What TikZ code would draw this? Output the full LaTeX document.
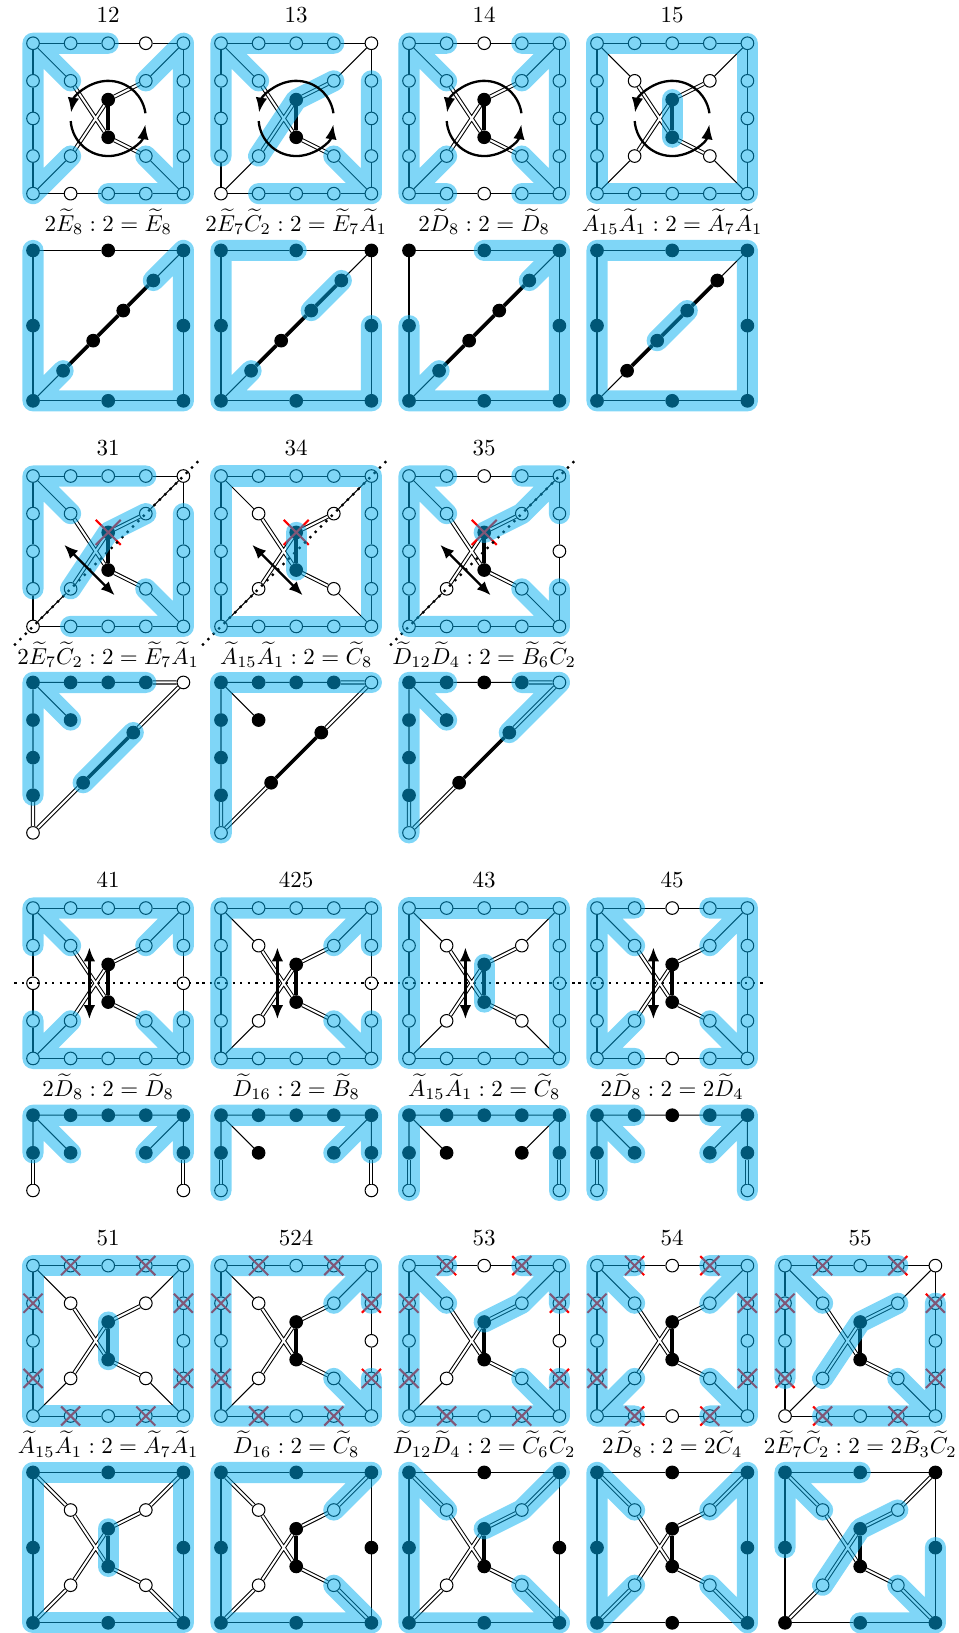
\documentclass[tikz,border=0pt]{standalone}
\usepackage{amsmath}
\usepackage{amssymb}
\usepackage{xcolor}
\usepackage{tikz}
\usetikzlibrary{arrows.meta, shapes.misc}
\definecolor{band}{HTML}{00AEEF}
\tikzset{
  wht/.style  = {circle, draw=black, line width=0.45pt, fill=white, inner sep=0pt, minimum size=5.5pt},
  blk/.style  = {circle, draw=black, line width=0.45pt, fill=black, inner sep=0pt, minimum size=5.5pt},
  sgl/.style  = {draw=black, line width=0.45pt},
  dbl/.style  = {draw=black, line width=0.45pt, double=white, double distance=0.9pt},
  thk/.style  = {draw=black, line width=1.6pt},
  hl/.style   = {draw=band, draw opacity=0.5, line width=9.2pt, line cap=round, line join=round},
  mir/.style  = {draw=black, line width=1pt, dash pattern=on 1pt off 2.3pt},
  flip/.style = {{Latex[length=6pt,width=5pt]}-{Latex[length=6pt,width=5pt]}, draw=black, line width=1pt},
  spin/.style = {-{Latex[length=6.5pt,width=5pt]}, draw=black, line width=1pt},
  xmk/.style  = {cross out, draw=red, line width=0.9pt, inner sep=0pt, minimum size=7.4pt},
  xbig/.style = {cross out, draw=red, line width=0.9pt, inner sep=0pt, minimum size=10pt},
  ttl/.style  = {anchor=base, inner sep=0pt},
  eqn/.style  = {anchor=base, inner sep=0pt},
}
% upper graph of a panel
\newcommand{\mainframe}{
  \foreach \x in {0,...,4} {
    \node[wht] (n\x4) at (\x,4) {};
    \node[wht] (n\x0) at (\x,0) {};
  }
  \foreach \y in {1,2,3} {
    \node[wht] (n0\y) at (0,\y) {};
    \node[wht] (n4\y) at (4,\y) {};
  }
  \foreach \x/\y in {1/3,3/3,1/1,3/1} \node[wht] (n\x\y) at (\x,\y) {};
  \node[blk] (cu) at (2,2.5) {};
  \node[blk] (cd) at (2,1.5) {};
  \draw[sgl] (n04) -- (n14) -- (n24) -- (n34) -- (n44) -- (n43) -- (n42) -- (n41) -- (n40)
             -- (n30) -- (n20) -- (n10) -- (n00) -- (n01) -- (n02) -- (n03) -- (n04);
  \draw[sgl] (n04) -- (n13) (n44) -- (n33) (n00) -- (n11) (n40) -- (n31);
  \draw[dbl] (n33) -- (cu) (n31) -- (cd) (n11) -- (cu) (n13) -- (cd);
  \draw[thk] (cu) -- (cd);
}
% lower graph, first row
\newcommand{\diagframe}{
  \foreach \x/\y in {0/4,2/4,4/4,0/2,4/2,0/0,2/0,4/0} \node[blk] (n\x\y) at (\x,\y) {};
  \foreach \i/\p in {1/0.8,2/1.6,3/2.4,4/3.2} \node[blk] (d\i) at (\p,\p) {};
  \draw[sgl] (n04) -- (n24) -- (n44) -- (n42) -- (n40) -- (n20) -- (n00) -- (n02) -- (n04);
  \draw[sgl] (n00) -- (d1) (d4) -- (n44);
  \draw[thk] (d1) -- (d2) -- (d3) -- (d4);
}
% lower graph, second row
\newcommand{\triframe}{
  \foreach \x/\y in {0/4,1/4,2/4,3/4,0/3,0/2,0/1,1/3} \node[blk] (n\x\y) at (\x,\y) {};
  \node[wht] (n44) at (4,4) {};
  \node[wht] (n00) at (0,0) {};
  \node[blk] (d1) at (1.333,1.333) {};
  \node[blk] (d2) at (2.667,2.667) {};
  \draw[sgl] (n04) -- (n14) -- (n24) -- (n34) (n04) -- (n03) -- (n02) -- (n01) (n04) -- (n13);
  \draw[dbl] (n34) -- (n44) (n01) -- (n00) (n00) -- (d1) (d2) -- (n44);
  \draw[thk] (d1) -- (d2);
}
% lower graph, third row
\newcommand{\forkframe}{
  \foreach \x/\y in {0/4,1/4,2/4,3/4,4/4,0/3,4/3,1/3,3/3} \node[blk] (n\x\y) at (\x,\y) {};
  \node[wht] (n02) at (0,2) {};
  \node[wht] (n42) at (4,2) {};
  \draw[sgl] (n04) -- (n14) -- (n24) -- (n34) -- (n44) -- (n43) (n04) -- (n03) (n04) -- (n13) (n44) -- (n33);
  \draw[dbl] (n03) -- (n02) (n43) -- (n42);
}
% lower graph, fourth row
\newcommand{\crossframe}{
  \foreach \x/\y in {0/4,2/4,4/4,0/2,4/2,0/0,2/0,4/0} \node[blk] (n\x\y) at (\x,\y) {};
  \foreach \x/\y in {1/3,3/3,1/1,3/1} \node[wht] (n\x\y) at (\x,\y) {};
  \node[blk] (cu) at (2,2.5) {};
  \node[blk] (cd) at (2,1.5) {};
  \draw[sgl] (n04) -- (n24) -- (n44) -- (n42) -- (n40) -- (n20) -- (n00) -- (n02) -- (n04);
  \draw[dbl] (n04) -- (n13) (n44) -- (n33) (n00) -- (n11) (n40) -- (n31);
  \draw[dbl] (n33) -- (cu) (n31) -- (cd) (n11) -- (cu) (n13) -- (cd);
  \draw[thk] (cu) -- (cd);
}
\newcommand{\spinarrows}{
  \coordinate (ctr) at (2,2);
  \draw[spin] (ctr) ++(8:1) arc[start angle=8, end angle=171, radius=1];
  \draw[spin] (ctr) ++(184:1) arc[start angle=184, end angle=351, radius=1];
}
\newcommand{\diagdots}{
  \coordinate (ma) at (-0.5,-0.5);
  \coordinate (mb) at (4.4,4.4);
  \draw[mir] (ma) -- (mb);
}
\newcommand{\diagflip}{
  \coordinate (fa) at (0.83,2.17);
  \coordinate (fb) at (2.17,0.83);
  \draw[flip] (fa) -- (fb);
}
\newcommand{\horzdots}{
  \coordinate (ma) at (-0.5,2);
  \coordinate (mb) at (4.5,2);
  \draw[mir] (ma) -- (mb);
}
\newcommand{\horzflip}{
  \coordinate (fa) at (1.5,2.95);
  \coordinate (fb) at (1.5,1.05);
  \draw[flip] (fa) -- (fb);
}
\newcommand{\eightx}{
  \foreach \p in {n14,n34,n10,n30,n01,n03,n41,n43} \node[xmk] (x\p) at (\p) {};
}
\begin{document}
\begin{tikzpicture}[x=16.36pt, y=16.36pt]
  \useasboundingbox (0,0) rectangle (25.505,-43.431);

  % ROW 1: top graphs
  \begin{scope}[shift={(0.878,-5.15)}, name prefix=p12-]
    \mainframe
    \draw[hl] (n24.center) -- (n04.center) -- (n00.center) -- (n11.center) (n04.center) -- (n13.center)
              (n20.center) -- (n40.center) -- (n44.center) -- (n33.center) (n40.center) -- (n31.center);
    \spinarrows
    \node[ttl] (num) at (2,4.54) {12};
    \node[eqn] (lab) at (2,-1) {$2\widetilde{E}_8:2=\widetilde{E}_8$};
  \end{scope}
  \begin{scope}[shift={(5.878,-5.15)}, name prefix=p13-]
    \mainframe
    \draw[hl] (n34.center) -- (n04.center) -- (n01.center) (n04.center) -- (n13.center)
              (n33.center) -- (cu.center) -- (n11.center)
              (n10.center) -- (n40.center) -- (n43.center) (n40.center) -- (n31.center);
    \spinarrows
    \node[ttl] (num) at (2,4.54) {13};
    \node[eqn] (lab) at (2,-1) {$2\widetilde{E}_7\widetilde{C}_2:2=\widetilde{E}_7\widetilde{A}_1$};
  \end{scope}
  \begin{scope}[shift={(10.878,-5.15)}, name prefix=p14-]
    \mainframe
    \draw[hl] (n14.center) -- (n04.center) -- (n00.center) -- (n10.center) (n04.center) -- (n13.center)
              (n00.center) -- (n11.center) (n34.center) -- (n44.center) -- (n40.center) -- (n30.center)
              (n44.center) -- (n33.center) (n40.center) -- (n31.center);
    \spinarrows
    \node[ttl] (num) at (2,4.54) {14};
    \node[eqn] (lab) at (2,-1) {$2\widetilde{D}_8:2=\widetilde{D}_8$};
  \end{scope}
  \begin{scope}[shift={(15.878,-5.15)}, name prefix=p15-]
    \mainframe
    \draw[hl] (n00.center) -- (n40.center) -- (n44.center) -- (n04.center) -- cycle (cu.center) -- (cd.center);
    \spinarrows
    \node[ttl] (num) at (2,4.54) {15};
    \node[eqn] (lab) at (2,-1) {$\widetilde{A}_{15}\widetilde{A}_1:2=\widetilde{A}_7\widetilde{A}_1$};
  \end{scope}

  % ROW 1: lower graphs
  \begin{scope}[shift={(0.878,-10.66)}, name prefix=q12-]
    \diagframe
    \draw[hl] (n04.center) -- (n00.center) -- (n40.center) -- (n44.center) -- (d4.center) (n00.center) -- (d1.center);
  \end{scope}
  \begin{scope}[shift={(5.878,-10.66)}, name prefix=q13-]
    \diagframe
    \draw[hl] (n24.center) -- (n04.center) -- (n00.center) -- (n40.center) -- (n42.center)
              (n00.center) -- (d1.center) (d3.center) -- (d4.center);
  \end{scope}
  \begin{scope}[shift={(10.878,-10.66)}, name prefix=q14-]
    \diagframe
    \draw[hl] (n24.center) -- (n44.center) -- (n40.center) -- (n00.center) -- (n02.center)
              (n00.center) -- (d1.center) (n44.center) -- (d4.center);
  \end{scope}
  \begin{scope}[shift={(15.878,-10.66)}, name prefix=q15-]
    \diagframe
    \draw[hl] (n00.center) -- (n40.center) -- (n44.center) -- (n04.center) -- cycle (d2.center) -- (d3.center);
  \end{scope}

  % ROW 2: top graphs
  \begin{scope}[shift={(0.878,-16.66)}, name prefix=p31-]
    \mainframe
    \node[xbig] (xc) at (cu) {};
    \diagdots
    \draw[hl] (n34.center) -- (n04.center) -- (n01.center) (n04.center) -- (n13.center)
              (n33.center) -- (cu.center) -- (n11.center)
              (n10.center) -- (n40.center) -- (n43.center) (n40.center) -- (n31.center);
    \diagflip
    \node[ttl] (num) at (2,4.54) {31};
    \node[eqn] (lab) at (2,-1) {$2\widetilde{E}_7\widetilde{C}_2:2=\widetilde{E}_7\widetilde{A}_1$};
  \end{scope}
  \begin{scope}[shift={(5.878,-16.66)}, name prefix=p34-]
    \mainframe
    \node[xbig] (xc) at (cu) {};
    \diagdots
    \draw[hl] (n00.center) -- (n40.center) -- (n44.center) -- (n04.center) -- cycle (cu.center) -- (cd.center);
    \diagflip
    \node[ttl] (num) at (2,4.54) {34};
    \node[eqn] (lab) at (2,-1) {$\widetilde{A}_{15}\widetilde{A}_1:2=\widetilde{C}_8$};
  \end{scope}
  \begin{scope}[shift={(10.878,-16.66)}, name prefix=p35-]
    \mainframe
    \node[xbig] (xc) at (cu) {};
    \diagdots
    \draw[hl] (n14.center) -- (n04.center) -- (n00.center) -- (n40.center) -- (n41.center) (n04.center) -- (n13.center)
              (n34.center) -- (n44.center) -- (n43.center) (n44.center) -- (n33.center) -- (cu.center)
              (n40.center) -- (n31.center);
    \diagflip
    \node[ttl] (num) at (2,4.54) {35};
    \node[eqn] (lab) at (2,-1) {$\widetilde{D}_{12}\widetilde{D}_4:2=\widetilde{B}_6\widetilde{C}_2$};
  \end{scope}

  % ROW 2: lower graphs
  \begin{scope}[shift={(0.878,-22.15)}, name prefix=q31-]
    \triframe
    \draw[hl] (n34.center) -- (n04.center) -- (n01.center) (n04.center) -- (n13.center) (d1.center) -- (d2.center);
  \end{scope}
  \begin{scope}[shift={(5.878,-22.15)}, name prefix=q34-]
    \triframe
    \draw[hl] (n44.center) -- (n04.center) -- (n00.center);
  \end{scope}
  \begin{scope}[shift={(10.878,-22.15)}, name prefix=q35-]
    \triframe
    \draw[hl] (n14.center) -- (n04.center) -- (n00.center) (n04.center) -- (n13.center)
              (n34.center) -- (n44.center) -- (d2.center);
  \end{scope}

  % ROW 3: top graphs
  \begin{scope}[shift={(0.878,-28.15)}, name prefix=p41-]
    \mainframe
    \horzdots
    \draw[hl] (n03.center) -- (n04.center) -- (n44.center) -- (n43.center) (n04.center) -- (n13.center) (n44.center) -- (n33.center)
              (n01.center) -- (n00.center) -- (n40.center) -- (n41.center) (n00.center) -- (n11.center) (n40.center) -- (n31.center);
    \horzflip
    \node[ttl] (num) at (2,4.54) {41};
    \node[eqn] (lab) at (2,-1) {$2\widetilde{D}_8:2=\widetilde{D}_8$};
  \end{scope}
  \begin{scope}[shift={(5.878,-28.15)}, name prefix=p425-]
    \mainframe
    \horzdots
    \draw[hl] (n43.center) -- (n44.center) -- (n04.center) -- (n00.center) -- (n40.center) -- (n41.center)
              (n44.center) -- (n33.center) (n40.center) -- (n31.center);
    \horzflip
    \node[ttl] (num) at (2,4.54) {425};
    \node[eqn] (lab) at (2,-1) {$\widetilde{D}_{16}:2=\widetilde{B}_8$};
  \end{scope}
  \begin{scope}[shift={(10.878,-28.15)}, name prefix=p43-]
    \mainframe
    \horzdots
    \draw[hl] (n00.center) -- (n40.center) -- (n44.center) -- (n04.center) -- cycle (cu.center) -- (cd.center);
    \horzflip
    \node[ttl] (num) at (2,4.54) {43};
    \node[eqn] (lab) at (2,-1) {$\widetilde{A}_{15}\widetilde{A}_1:2=\widetilde{C}_8$};
  \end{scope}
  \begin{scope}[shift={(15.878,-28.15)}, name prefix=p45-]
    \mainframe
    \horzdots
    \draw[hl] (n14.center) -- (n04.center) -- (n00.center) -- (n10.center) (n04.center) -- (n13.center)
              (n00.center) -- (n11.center) (n34.center) -- (n44.center) -- (n40.center) -- (n30.center)
              (n44.center) -- (n33.center) (n40.center) -- (n31.center);
    \horzflip
    \node[ttl] (num) at (2,4.54) {45};
    \node[eqn] (lab) at (2,-1) {$2\widetilde{D}_8:2=2\widetilde{D}_4$};
  \end{scope}

  % ROW 3: lower graphs
  \begin{scope}[shift={(0.878,-33.66)}, name prefix=q41-]
    \forkframe
    \draw[hl] (n03.center) -- (n04.center) -- (n44.center) -- (n43.center) (n04.center) -- (n13.center) (n44.center) -- (n33.center);
  \end{scope}
  \begin{scope}[shift={(5.878,-33.66)}, name prefix=q425-]
    \forkframe
    \draw[hl] (n02.center) -- (n04.center) -- (n44.center) -- (n43.center) (n44.center) -- (n33.center);
  \end{scope}
  \begin{scope}[shift={(10.878,-33.66)}, name prefix=q43-]
    \forkframe
    \draw[hl] (n02.center) -- (n04.center) -- (n44.center) -- (n42.center);
  \end{scope}
  \begin{scope}[shift={(15.878,-33.66)}, name prefix=q45-]
    \forkframe
    \draw[hl] (n14.center) -- (n04.center) -- (n02.center) (n04.center) -- (n13.center)
              (n34.center) -- (n44.center) -- (n42.center) (n44.center) -- (n33.center);
  \end{scope}

  % ROW 4: top graphs
  \begin{scope}[shift={(0.878,-37.66)}, name prefix=p51-]
    \mainframe
    \eightx
    \draw[hl] (n00.center) -- (n40.center) -- (n44.center) -- (n04.center) -- cycle (cu.center) -- (cd.center);
    \node[ttl] (num) at (2,4.54) {51};
    \node[eqn] (lab) at (2,-1) {$\widetilde{A}_{15}\widetilde{A}_1:2=\widetilde{A}_7\widetilde{A}_1$};
  \end{scope}
  \begin{scope}[shift={(5.878,-37.66)}, name prefix=p524-]
    \mainframe
    \eightx
    \draw[hl] (n43.center) -- (n44.center) -- (n04.center) -- (n00.center) -- (n40.center) -- (n41.center)
              (n44.center) -- (n33.center) (n40.center) -- (n31.center);
    \node[ttl] (num) at (2,4.54) {524};
    \node[eqn] (lab) at (2,-1) {$\widetilde{D}_{16}:2=\widetilde{C}_8$};
  \end{scope}
  \begin{scope}[shift={(10.878,-37.66)}, name prefix=p53-]
    \mainframe
    \eightx
    \draw[hl] (n14.center) -- (n04.center) -- (n00.center) -- (n40.center) -- (n41.center) (n04.center) -- (n13.center)
              (n34.center) -- (n44.center) -- (n43.center) (n44.center) -- (n33.center) -- (cu.center)
              (n40.center) -- (n31.center);
    \node[ttl] (num) at (2,4.54) {53};
    \node[eqn] (lab) at (2,-1) {$\widetilde{D}_{12}\widetilde{D}_4:2=\widetilde{C}_6\widetilde{C}_2$};
  \end{scope}
  \begin{scope}[shift={(15.878,-37.66)}, name prefix=p54-]
    \mainframe
    \eightx
    \draw[hl] (n14.center) -- (n04.center) -- (n00.center) -- (n10.center) (n04.center) -- (n13.center)
              (n00.center) -- (n11.center) (n34.center) -- (n44.center) -- (n40.center) -- (n30.center)
              (n44.center) -- (n33.center) (n40.center) -- (n31.center);
    \node[ttl] (num) at (2,4.54) {54};
    \node[eqn] (lab) at (2,-1) {$2\widetilde{D}_8:2=2\widetilde{C}_4$};
  \end{scope}
  \begin{scope}[shift={(20.878,-37.66)}, name prefix=p55-]
    \mainframe
    \eightx
    \draw[hl] (n34.center) -- (n04.center) -- (n01.center) (n04.center) -- (n13.center)
              (n33.center) -- (cu.center) -- (n11.center)
              (n10.center) -- (n40.center) -- (n43.center) (n40.center) -- (n31.center);
    \node[ttl] (num) at (2,4.54) {55};
    \node[eqn] (lab) at (2,-1) {$2\widetilde{E}_7\widetilde{C}_2:2=2\widetilde{B}_3\widetilde{C}_2$};
  \end{scope}

  % ROW 4: lower graphs
  \begin{scope}[shift={(0.878,-43.16)}, name prefix=q51-]
    \crossframe
    \draw[hl] (n00.center) -- (n40.center) -- (n44.center) -- (n04.center) -- cycle (cu.center) -- (cd.center);
  \end{scope}
  \begin{scope}[shift={(5.878,-43.16)}, name prefix=q524-]
    \crossframe
    \draw[hl] (n33.center) -- (n44.center) -- (n04.center) -- (n00.center) -- (n40.center) -- (n31.center);
  \end{scope}
  \begin{scope}[shift={(10.878,-43.16)}, name prefix=q53-]
    \crossframe
    \draw[hl] (n13.center) -- (n04.center) -- (n00.center) -- (n40.center) -- (n31.center)
              (n44.center) -- (n33.center) -- (cu.center);
  \end{scope}
  \begin{scope}[shift={(15.878,-43.16)}, name prefix=q54-]
    \crossframe
    \draw[hl] (n13.center) -- (n04.center) -- (n00.center) -- (n11.center)
              (n33.center) -- (n44.center) -- (n40.center) -- (n31.center);
  \end{scope}
  \begin{scope}[shift={(20.878,-43.16)}, name prefix=q55-]
    \crossframe
    \draw[hl] (n24.center) -- (n04.center) -- (n02.center) (n04.center) -- (n13.center)
              (n33.center) -- (cu.center) -- (n11.center)
              (n20.center) -- (n40.center) -- (n42.center) (n40.center) -- (n31.center);
  \end{scope}

\end{tikzpicture}
\end{document}
